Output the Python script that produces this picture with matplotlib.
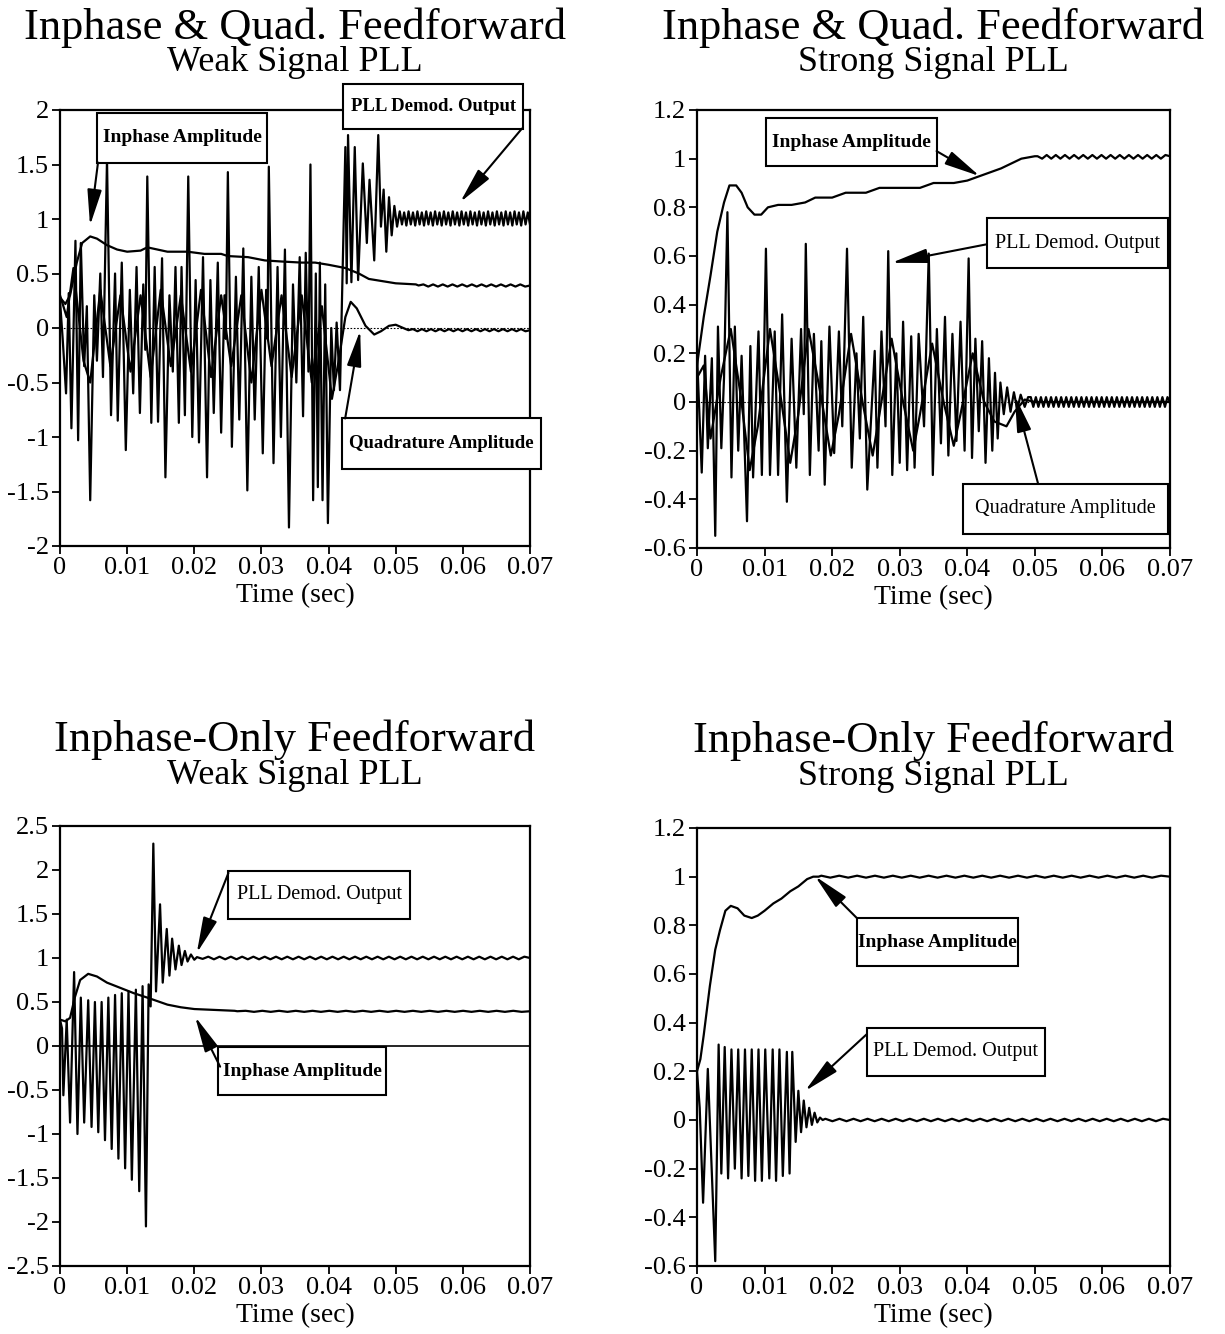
import numpy as np
import matplotlib
matplotlib.use('Agg')
import matplotlib.pyplot as plt
from matplotlib.patches import Rectangle

plt.rcParams['font.family'] = ['Liberation Serif', 'DejaVu Serif']
plt.rcParams['axes.unicode_minus'] = False

# ---------------- shared axis data ----------------
T_TICKS = [0, 0.01, 0.02, 0.03, 0.04, 0.05, 0.06, 0.07]
T_LABELS = ['0', '0.01', '0.02', '0.03', '0.04', '0.05', '0.06', '0.07']
YA_TICKS = [2, 1.5, 1, 0.5, 0, -0.5, -1, -1.5, -2]
YA_LABELS = ['2', '1.5', '1', '0.5', '0', '-0.5', '-1', '-1.5', '-2']
YB_TICKS = [1.2, 1, 0.8, 0.6, 0.4, 0.2, 0, -0.2, -0.4, -0.6]
YB_LABELS = ['1.2', '1', '0.8', '0.6', '0.4', '0.2', '0', '-0.2', '-0.4', '-0.6']
YC_TICKS = [2.5, 2, 1.5, 1, 0.5, 0, -0.5, -1, -1.5, -2, -2.5]
YC_LABELS = ['2.5', '2', '1.5', '1', '0.5', '0', '-0.5', '-1', '-1.5', '-2', '-2.5']

# ---------------- Panel A: I&Q feedforward, weak signal ----------------
a_dem_t = [0.0000, 0.0004, 0.0009, 0.0013, 0.0017, 0.0023, 0.0027, 0.0031, 0.0036, 0.0040,
           0.0045, 0.0051, 0.0055, 0.0060, 0.0064, 0.0070, 0.0076, 0.0082, 0.0086, 0.0092,
           0.0098, 0.0104, 0.0109, 0.0114, 0.0119, 0.0124, 0.0127, 0.0130, 0.0136, 0.0141,
           0.0146, 0.0152, 0.0157, 0.0163, 0.0168, 0.0172, 0.0177, 0.0181, 0.0186, 0.0191,
           0.0197, 0.0202, 0.0207, 0.0213, 0.0219, 0.0224, 0.0229, 0.0235, 0.0240, 0.0245,
           0.0247, 0.0250, 0.0256, 0.0262, 0.0267, 0.0273, 0.0279, 0.0285, 0.0290, 0.0296,
           0.0302, 0.0307, 0.0309, 0.0311, 0.0318, 0.0324, 0.0329, 0.0335, 0.0341, 0.0347,
           0.0352, 0.0357, 0.0362, 0.0366, 0.0370, 0.0373, 0.0377, 0.0381, 0.0384, 0.0387,
           0.0391, 0.0395, 0.0399, 0.0404, 0.0408, 0.0412, 0.0417, 0.0425, 0.0427, 0.0429,
           0.0434, 0.0439, 0.0444, 0.0451, 0.0457, 0.0461, 0.0468, 0.0474, 0.0478, 0.0482,
           0.0486, 0.0490, 0.0494, 0.0498, 0.0502]
a_dem_v = [0.25, -0.10, -0.60, 0.32, -0.92, 0.80, -1.03, 0.78, -0.35, 0.20,
           -1.58, 0.30, -0.30, 0.50, -0.45, 1.55, -0.80, 0.50, -0.85, 0.60,
           -1.12, 0.35, -0.60, 0.56, -0.78, 0.40, -0.20, 1.39, -0.87, 0.56,
           -0.86, 0.64, -1.37, 0.30, -0.40, 0.56, -0.87, 0.56, -0.80, 1.39,
           -1.00, 0.44, -1.05, 0.65, -1.37, 0.44, -0.78, 0.60, -0.96, 0.30,
           -0.10, 1.43, -1.09, 0.47, -0.84, 0.73, -1.49, 0.47, -0.84, 0.56,
           -1.15, 0.35, -0.10, 1.48, -1.24, 0.56, -1.00, 0.72, -1.83, 0.40,
           -0.50, 0.65, -0.81, 0.69, -0.40, 1.50, -1.58, 0.50, -1.46, 0.60,
           -1.58, 0.40, -1.79, 0.00, -0.57, 0.05, -0.57, 1.66, 0.41, 1.77,
           0.42, 1.66, 0.44, 1.51, 0.78, 1.36, 0.62, 1.77, 0.93, 1.27,
           0.70, 1.20, 0.85, 1.12, 0.93]
a_dem_ripple = [1.07, 0.95, 1.06, 0.94, 1.07, 0.95, 1.06, 0.94, 1.07, 0.95,
                1.06, 0.94, 1.07, 0.95, 1.06, 0.94, 1.07, 0.95, 1.06, 0.94,
                1.07, 0.95, 1.06, 0.94, 1.07, 0.95, 1.06, 0.94, 1.07, 0.95,
                1.06, 0.94, 1.07, 0.95, 1.06, 0.94, 1.07, 0.95, 1.06, 0.94,
                1.07, 0.95, 1.06, 0.94, 1.07, 0.95, 1.06, 0.94, 1.07, 0.95,
                1.06, 0.94, 1.07, 0.95, 1.06, 0.94, 1.07, 0.95, 1.06, 0.95]
a_inph_t = [0.0, 0.0008, 0.0015, 0.0025, 0.0033, 0.0045, 0.0055, 0.0070, 0.0085, 0.0100,
            0.0120, 0.0130, 0.0145, 0.0160, 0.0190, 0.0215, 0.0240, 0.0250, 0.0280, 0.0305,
            0.0330, 0.0360, 0.0380, 0.0400, 0.0425, 0.0445, 0.0460, 0.0480, 0.0500, 0.0530]
a_inph_v = [0.28, 0.22, 0.30, 0.60, 0.78, 0.84, 0.82, 0.76, 0.72, 0.70,
            0.71, 0.74, 0.72, 0.70, 0.70, 0.68, 0.68, 0.66, 0.65, 0.62,
            0.61, 0.60, 0.60, 0.58, 0.55, 0.50, 0.45, 0.43, 0.41, 0.40]
a_inph_ripple = [0.39, 0.40, 0.38, 0.40, 0.38, 0.40, 0.38, 0.40, 0.38, 0.40, 0.38, 0.40,
                 0.38, 0.40, 0.38, 0.40, 0.38, 0.40, 0.38, 0.40, 0.38, 0.40, 0.38, 0.39]
a_quad_t = [0.0, 0.0010, 0.0020, 0.0035, 0.0045, 0.0060, 0.0075, 0.0090, 0.0105, 0.0120,
            0.0135, 0.0150, 0.0165, 0.0180, 0.0195, 0.0210, 0.0225, 0.0240, 0.0255, 0.0270,
            0.0285, 0.0300, 0.0315, 0.0330, 0.0345, 0.0360, 0.0375, 0.0390, 0.0405, 0.0415,
            0.0425, 0.0433, 0.0442, 0.0455, 0.0468, 0.0478, 0.0490, 0.0500, 0.0515]
a_quad_v = [0.30, 0.10, 0.55, -0.30, -0.50, 0.35, -0.35, 0.30, -0.40, 0.30,
            -0.45, 0.35, -0.35, 0.30, -0.40, 0.35, -0.45, 0.30, -0.35, 0.30,
            -0.50, 0.35, -0.35, 0.30, -0.45, 0.30, -0.50, 0.20, -0.65, -0.30,
            0.10, 0.24, 0.18, 0.02, -0.06, -0.03, 0.02, 0.03, -0.01]
a_quad_ripple = [-0.02, -0.01, -0.03, -0.01, -0.03, -0.01, -0.03, -0.01, -0.03, -0.01,
                 -0.03, -0.01, -0.03, -0.01, -0.03, -0.01, -0.03, -0.01, -0.03, -0.01,
                 -0.03, -0.01, -0.03, -0.01, -0.03, -0.01, -0.03, -0.02]

# ---------------- Panel B: I&Q feedforward, strong signal ----------------
b_dem_t = [0.0000, 0.0007, 0.0012, 0.0016, 0.0022, 0.0027, 0.0031, 0.0036, 0.0040, 0.0045,
           0.0051, 0.0056, 0.0061, 0.0066, 0.0074, 0.0079, 0.0083, 0.0091, 0.0096, 0.0102,
           0.0108, 0.0115, 0.0120, 0.0126, 0.0133, 0.0140, 0.0147, 0.0154, 0.0158, 0.0161,
           0.0167, 0.0173, 0.0180, 0.0184, 0.0189, 0.0196, 0.0203, 0.0210, 0.0215, 0.0222,
           0.0229, 0.0236, 0.0241, 0.0246, 0.0252, 0.0263, 0.0267, 0.0273, 0.0279, 0.0283,
           0.0289, 0.0295, 0.0300, 0.0305, 0.0311, 0.0317, 0.0322, 0.0328, 0.0336, 0.0343,
           0.0349, 0.0355, 0.0361, 0.0367, 0.0372, 0.0378, 0.0384, 0.0390, 0.0396, 0.0402,
           0.0407, 0.0412, 0.0417, 0.0422, 0.0427, 0.0432, 0.0437, 0.0441, 0.0445, 0.0449,
           0.0454, 0.0459, 0.0464, 0.0469, 0.0474, 0.0479, 0.0485, 0.0490]
b_dem_v = [0.20, -0.29, 0.19, -0.19, 0.18, -0.55, 0.31, -0.19, 0.10, 0.78,
           -0.31, 0.31, -0.20, 0.19, -0.49, 0.23, -0.31, 0.29, -0.30, 0.63,
           -0.30, 0.29, -0.30, 0.36, -0.41, 0.26, -0.27, 0.30, -0.05, 0.65,
           -0.30, 0.28, -0.20, 0.25, -0.34, 0.31, -0.21, 0.29, -0.10, 0.63,
           -0.27, 0.20, -0.15, 0.35, -0.36, 0.21, -0.27, 0.29, -0.10, 0.62,
           -0.30, 0.20, -0.25, 0.33, -0.28, 0.27, -0.27, 0.28, -0.10, 0.61,
           -0.30, 0.30, -0.17, 0.35, -0.22, 0.28, -0.16, 0.33, -0.20, 0.59,
           -0.23, 0.26, -0.12, 0.25, -0.25, 0.18, -0.20, 0.12, -0.15, 0.08,
           -0.05, 0.06, -0.04, 0.04, -0.03, 0.03, -0.02, 0.02]
b_dem_ripple = [0.02, -0.02, 0.02, -0.02, 0.02, -0.02, 0.02, -0.02, 0.02, -0.02,
                0.02, -0.02, 0.02, -0.02, 0.02, -0.02, 0.02, -0.02, 0.02, -0.02,
                0.02, -0.02, 0.02, -0.02, 0.02, -0.02, 0.02, -0.02, 0.02, -0.02,
                0.02, -0.02, 0.02, -0.02, 0.02, -0.02, 0.02, -0.02, 0.02, -0.02,
                0.02, -0.02, 0.02, -0.02, 0.02, -0.02, 0.02, -0.02, 0.02, -0.02,
                0.02, -0.02, 0.02, -0.02, 0.02, 0.00]
b_inph_t = [0.0, 0.0010, 0.0020, 0.0030, 0.0040, 0.0048, 0.0058, 0.0066, 0.0075, 0.0085,
            0.0095, 0.0105, 0.0120, 0.0140, 0.0160, 0.0175, 0.0200, 0.0220, 0.0250, 0.0270,
            0.0300, 0.0330, 0.0350, 0.0380, 0.0400, 0.0420, 0.0450, 0.0480, 0.0500]
b_inph_v = [0.15, 0.35, 0.52, 0.70, 0.82, 0.89, 0.89, 0.86, 0.80, 0.77,
            0.77, 0.80, 0.81, 0.81, 0.82, 0.84, 0.84, 0.86, 0.86, 0.88,
            0.88, 0.88, 0.90, 0.90, 0.91, 0.93, 0.96, 1.00, 1.01]
b_inph_ripple = [1.01, 1.00, 1.015, 1.00, 1.015, 1.00, 1.015, 1.00, 1.015, 1.00,
                 1.015, 1.00, 1.015, 1.00, 1.015, 1.00, 1.015, 1.00, 1.015, 1.00,
                 1.015, 1.00, 1.015, 1.00, 1.015, 1.00, 1.015, 1.00, 1.015, 1.01]
b_quad_t = [0.0, 0.0010, 0.0020, 0.0035, 0.0050, 0.0065, 0.0078, 0.0090, 0.0108, 0.0125,
            0.0138, 0.0150, 0.0165, 0.0185, 0.0198, 0.0210, 0.0228, 0.0245, 0.0260, 0.0270,
            0.0288, 0.0305, 0.0320, 0.0330, 0.0348, 0.0365, 0.0380, 0.0390, 0.0408, 0.0425,
            0.0440, 0.0458, 0.0470, 0.0485, 0.0500, 0.0700]
b_quad_v = [0.10, 0.15, -0.15, 0.10, 0.30, 0.02, -0.28, -0.10, 0.30, 0.00,
            -0.25, -0.05, 0.30, 0.00, -0.22, -0.05, 0.28, 0.00, -0.22, -0.05,
            0.26, 0.00, -0.20, -0.05, 0.24, 0.00, -0.18, -0.05, 0.20, 0.00,
            -0.08, -0.10, -0.04, 0.01, 0.00, 0.00]

# ---------------- Panel C: inphase-only feedforward, weak signal ----------------
c_dem_t = [0.0000, 0.0003, 0.0005, 0.0010, 0.0015, 0.0021, 0.0026, 0.0031, 0.0036, 0.0042,
           0.0047, 0.0052, 0.0057, 0.0062, 0.0067, 0.0072, 0.0077, 0.0082, 0.0087, 0.0092,
           0.0097, 0.0102, 0.0107, 0.0113, 0.0118, 0.0123, 0.0128, 0.0132, 0.0135, 0.0139,
           0.0143, 0.0149, 0.0153, 0.0159, 0.0163, 0.0167, 0.0172, 0.0177, 0.0181, 0.0186,
           0.0190, 0.0195, 0.0200]
c_dem_v = [0.30, 0.20, -0.56, 0.30, -0.87, 0.84, -1.00, 0.55, -0.87, 0.52,
           -0.92, 0.50, -0.98, 0.50, -1.07, 0.55, -1.17, 0.58, -1.28, 0.60,
           -1.39, 0.62, -1.52, 0.64, -1.65, 0.68, -2.05, 0.70, 0.45, 2.30,
           0.62, 1.61, 0.72, 1.33, 0.80, 1.22, 0.87, 1.14, 0.92, 1.08,
           0.96, 1.04, 0.98]
c_dem_ripple = [1.01, 0.99, 1.015, 0.985, 1.015, 0.985, 1.015, 0.985, 1.015, 0.985,
                1.015, 0.985, 1.015, 0.985, 1.015, 0.985, 1.015, 0.985, 1.015, 0.985,
                1.015, 0.985, 1.015, 0.985, 1.015, 0.985, 1.015, 0.985, 1.015, 0.985,
                1.015, 0.985, 1.015, 0.985, 1.015, 0.985, 1.015, 0.985, 1.015, 0.985,
                1.015, 0.985, 1.015, 0.985, 1.015, 0.985, 1.015, 0.985, 1.015, 0.985,
                1.015, 0.985, 1.015, 0.985, 1.015, 0.985, 1.015, 0.985, 1.015, 1.00]
c_inph_t = [0.0, 0.0008, 0.0015, 0.0022, 0.0030, 0.0042, 0.0055, 0.0070, 0.0090, 0.0110,
            0.0130, 0.0145, 0.0160, 0.0180, 0.0200, 0.0230, 0.0260]
c_inph_v = [0.30, 0.28, 0.32, 0.55, 0.75, 0.82, 0.79, 0.72, 0.66, 0.60,
            0.55, 0.51, 0.47, 0.44, 0.42, 0.41, 0.40]
c_inph_ripple = [0.395, 0.40, 0.388, 0.40, 0.388, 0.40, 0.388, 0.40, 0.388, 0.40,
                 0.388, 0.40, 0.388, 0.40, 0.388, 0.40, 0.388, 0.40, 0.388, 0.40,
                 0.388, 0.40, 0.388, 0.40, 0.388, 0.40, 0.388, 0.40, 0.388, 0.40,
                 0.388, 0.40, 0.388, 0.40, 0.388, 0.395]

# ---------------- Panel D: inphase-only feedforward, strong signal ----------------
d_dem_t = [0.0000, 0.0004, 0.0009, 0.0016, 0.0027, 0.0032, 0.0036, 0.0041, 0.0046, 0.0051,
           0.0056, 0.0061, 0.0066, 0.0071, 0.0076, 0.0081, 0.0086, 0.0091, 0.0096, 0.0101,
           0.0107, 0.0112, 0.0117, 0.0122, 0.0127, 0.0133, 0.0137, 0.0141, 0.0146, 0.0150,
           0.0154, 0.0158, 0.0162, 0.0166, 0.0170, 0.0174, 0.0178, 0.0182, 0.0186]
d_dem_v = [0.20, 0.05, -0.34, 0.21, -0.58, 0.31, -0.22, 0.30, -0.24, 0.29,
           -0.20, 0.29, -0.24, 0.29, -0.23, 0.29, -0.25, 0.29, -0.25, 0.29,
           -0.24, 0.29, -0.25, 0.29, -0.23, 0.28, -0.22, 0.28, -0.09, 0.12,
           -0.05, 0.08, -0.03, 0.05, -0.02, 0.03, -0.01, 0.01, 0.00]
d_dem_ripple = [0.005, -0.005, 0.005, -0.005, 0.005, -0.005, 0.005, -0.005, 0.005, -0.005,
                0.005, -0.005, 0.005, -0.005, 0.005, -0.005, 0.005, -0.005, 0.005, -0.005,
                0.005, -0.005, 0.005, -0.005, 0.005, -0.005, 0.005, -0.005, 0.005, -0.005,
                0.005, -0.005, 0.005, -0.005, 0.005, -0.005, 0.005, -0.005, 0.005, -0.005,
                0.005, -0.005, 0.005, -0.005, 0.005, -0.005, 0.005, -0.005, 0.005, 0.000]
d_inph_t = [0.0, 0.0005, 0.0010, 0.0019, 0.0027, 0.0034, 0.0042, 0.0050, 0.0060, 0.0070,
            0.0081, 0.0090, 0.0100, 0.0113, 0.0125, 0.0138, 0.0150, 0.0163, 0.0172, 0.0180]
d_inph_v = [0.20, 0.25, 0.35, 0.55, 0.70, 0.78, 0.86, 0.88, 0.87, 0.84,
            0.83, 0.84, 0.86, 0.89, 0.91, 0.94, 0.96, 0.99, 1.00, 1.00]
d_inph_ripple = [1.004, 0.996, 1.004, 0.996, 1.004, 0.996, 1.004, 0.996, 1.004, 0.996,
                 1.004, 0.996, 1.004, 0.996, 1.004, 0.996, 1.004, 0.996, 1.004, 0.996,
                 1.004, 0.996, 1.004, 0.996, 1.004, 0.996, 1.004, 0.996, 1.004, 0.996,
                 1.004, 0.996, 1.004, 0.996, 1.004, 0.996, 1.004, 0.996, 1.004, 1.000]

# ---------------- figure ----------------
W, H = 1225, 1334
fig = plt.figure(figsize=(W / 100, H / 100), dpi=100)
LW = 1.6


def add_ax(l, t, r, b):
    return fig.add_axes([l / W, 1 - b / H, (r - l) / W, (b - t) / H])


def series(t, v, ripple, t_end=0.07):
    """Join a transient list with its steady-state ripple samples."""
    if ripple is None:
        return np.asarray(t), np.asarray(v)
    t0 = t[-1] + 0.0004
    rt = np.linspace(t0, t_end, len(ripple))
    return np.concatenate([t, rt]), np.concatenate([v, ripple])


def style(ax, yt, yl, ylim):
    ax.set_xlim(0, 0.07)
    ax.set_ylim(*ylim)
    ax.set_xticks(T_TICKS)
    ax.set_xticklabels(T_LABELS)
    ax.set_yticks(yt)
    ax.set_yticklabels(yl)
    ax.tick_params(direction='out', length=6, width=1.3, labelsize=19, pad=2)
    for s in ax.spines.values():
        s.set_linewidth(1.6)
    ax.set_xlabel('Time (sec)', fontsize=20, labelpad=3)


def titles(ax, l1, l2, off1, off2):
    ax.annotate(l1, xy=(0.5, 1), xycoords='axes fraction', xytext=(0, off1),
                textcoords='offset points', ha='center', va='center', fontsize=32,
                annotation_clip=False)
    ax.annotate(l2, xy=(0.5, 1), xycoords='axes fraction', xytext=(0, off2),
                textcoords='offset points', ha='center', va='center', fontsize=26,
                annotation_clip=False)


def callout(ax, text, box, tail, tip, bold, size):
    x0, x1, ya, yb = box
    ylo, yhi = min(ya, yb), max(ya, yb)
    ax.add_patch(Rectangle((x0, ylo), x1 - x0, yhi - ylo, facecolor='white',
                           edgecolor='black', lw=1.5, clip_on=False, zorder=6))
    ax.text((x0 + x1) / 2, (ylo + yhi) / 2, text, ha='center', va='center',
            fontsize=size, fontweight='bold' if bold else 'normal', zorder=7, clip_on=False)
    ax.annotate('', xy=tip, xytext=tail, zorder=7, annotation_clip=False,
                arrowprops=dict(arrowstyle='-|>,head_length=1.1,head_width=0.22',
                                mutation_scale=20, color='black', lw=1.5,
                                shrinkA=0, shrinkB=0))


# ---- Panel A
axA = add_ax(60, 110, 530, 546)
style(axA, YA_TICKS, YA_LABELS, (-2, 2))
axA.axhline(0, color='black', lw=0.8, ls=(0, (1.5, 1.5)), zorder=1)
axA.plot(*series(a_quad_t, a_quad_v, a_quad_ripple), color='black', lw=LW)
axA.plot(*series(a_inph_t, a_inph_v, a_inph_ripple), color='black', lw=LW)
axA.plot(*series(a_dem_t, a_dem_v, a_dem_ripple), color='black', lw=LW)
titles(axA, 'Inphase & Quad. Feedforward', 'Weak Signal PLL', 59, 34)
callout(axA, 'Inphase Amplitude', (0.00551, 0.03085, 1.977, 1.518),
        (0.00566, 1.518), (0.00447, 0.94), True, 14)
callout(axA, 'PLL Demod. Output', (0.04218, 0.06900, 2.243, 1.830),
        (0.0688, 1.830), (0.0596, 1.154), True, 13.5)
callout(axA, 'Quadrature Amplitude', (0.04203, 0.07168, -0.830, -1.289),
        (0.04247, -0.830), (0.04471, -0.023), True, 13.5)

# ---- Panel B
axB = add_ax(697, 110, 1170, 548)
style(axB, YB_TICKS, YB_LABELS, (-0.6, 1.2))
axB.axhline(0, color='black', lw=0.8, ls=(0, (1.5, 1.5)), zorder=1)
axB.plot(b_quad_t, b_quad_v, color='black', lw=LW)
axB.plot(*series(b_inph_t, b_inph_v, b_inph_ripple), color='black', lw=LW)
axB.plot(*series(b_dem_t, b_dem_v, b_dem_ripple), color='black', lw=LW)
titles(axB, 'Inphase & Quad. Feedforward', 'Strong Signal PLL', 59, 34)
callout(axB, 'Inphase Amplitude', (0.01021, 0.03550, 1.166, 0.969),
        (0.03546, 1.031), (0.04186, 0.928), True, 14)
callout(axB, 'PLL Demod. Output', (0.04290, 0.06967, 0.756, 0.550),
        (0.04286, 0.648), (0.0288, 0.572), False, 14.5)
callout(axB, 'Quadrature Amplitude', (0.03935, 0.06967, -0.337, -0.542),
        (0.05049, -0.337), (0.04704, 0.025), False, 14.5)

# ---- Panel C
axC = add_ax(60, 826, 530, 1266)
style(axC, YC_TICKS, YC_LABELS, (-2.5, 2.5))
axC.axhline(0, color='black', lw=1.2, zorder=1)
axC.plot(*series(c_inph_t, c_inph_v, c_inph_ripple), color='black', lw=LW)
axC.plot(*series(c_dem_t, c_dem_v, c_dem_ripple), color='black', lw=LW)
titles(axC, 'Inphase-Only Feedforward', 'Weak Signal PLL', 62, 36)
callout(axC, 'PLL Demod. Output', (0.02504, 0.05216, 1.993, 1.446),
        (0.02509, 1.967), (0.02037, 1.056), False, 14.5)
callout(axC, 'Inphase Amplitude', (0.02355, 0.04858, -0.011, -0.558),
        (0.02385, -0.235), (0.02012, 0.334), True, 14)

# ---- Panel D
axD = add_ax(697, 828, 1170, 1266)
style(axD, YB_TICKS, YB_LABELS, (-0.6, 1.2))
axD.plot(*series(d_inph_t, d_inph_v, d_inph_ripple), color='black', lw=LW)
axD.plot(*series(d_dem_t, d_dem_v, d_dem_ripple), color='black', lw=LW)
titles(axD, 'Inphase-Only Feedforward', 'Strong Signal PLL', 63, 37)
callout(axD, 'Inphase Amplitude', (0.02367, 0.04749, 0.830, 0.632),
        (0.02362, 0.831), (0.01746, 1.002), True, 14)
callout(axD, 'PLL Demod. Output', (0.02515, 0.05148, 0.378, 0.181),
        (0.0251, 0.352), (0.01598, 0.119), False, 14.5)

fig.savefig('out.png', dpi=100)
